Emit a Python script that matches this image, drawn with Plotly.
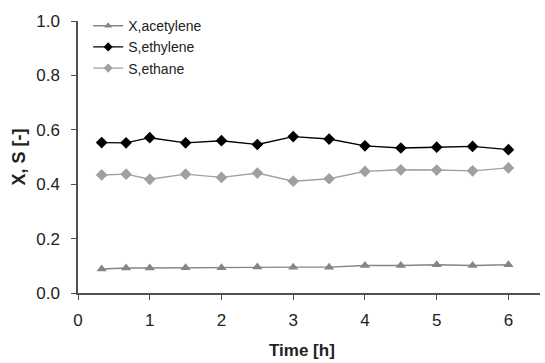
import plotly.graph_objects as go

time_h = [0.33, 0.67, 1.0, 1.5, 2.0, 2.5, 3.0, 3.5, 4.0, 4.5, 5.0, 5.5, 6.0]
x_acetylene = [0.088, 0.092, 0.092, 0.093, 0.093, 0.096, 0.095, 0.095, 0.101, 0.101, 0.104, 0.101, 0.104]
s_ethylene = [0.553, 0.552, 0.571, 0.552, 0.560, 0.546, 0.575, 0.566, 0.541, 0.533, 0.536, 0.539, 0.527]
s_ethane = [0.434, 0.437, 0.418, 0.437, 0.425, 0.441, 0.411, 0.420, 0.447, 0.453, 0.452, 0.449, 0.460]

names = ["X,acetylene", "S,ethylene", "S,ethane"]
series = [x_acetylene, s_ethylene, s_ethane]
colors = ["#858585", "#000000", "#a0a0a0"]
symbols = ["triangle-up", "diamond", "diamond"]

FONT = "Liberation Sans, Arial, sans-serif"
AX = "#505050"

fig = go.Figure()
for nm, ys, c, s in zip(names, series, colors, symbols):
    fig.add_trace(go.Scatter(x=time_h, y=ys, name=nm, mode="lines+markers", showlegend=False,
                             line=dict(color=c, width=1.4),
                             marker=dict(symbol=s, size=9, color=c)))
# legend-only entries with smaller markers, as in the reference legend
for nm, c, s in zip(names, colors, symbols):
    fig.add_trace(go.Scatter(x=[None], y=[None], name=nm, mode="lines+markers",
                             line=dict(color=c, width=1.4),
                             marker=dict(symbol=s, size=7, color=c)))

fig.update_layout(
    width=545, height=363,
    margin=dict(l=78, r=5, t=21, b=70),
    paper_bgcolor="white", plot_bgcolor="white",
    font=dict(family=FONT, color="#222222", size=17),
    showlegend=True,
    legend=dict(x=0.022, y=1.04, xanchor="left", yanchor="top",
                font=dict(size=14, color="#222222"), bgcolor="rgba(0,0,0,0)",
                tracegroupgap=0),
    xaxis=dict(range=[0, 6.44], tickvals=[0, 1, 2, 3, 4, 5, 6], ticktext=["0", "1", "2", "3", "4", "5", "6"],
               showgrid=False, zeroline=False, showline=True, linecolor=AX, linewidth=1.5,
               ticks="outside", ticklen=5, tickcolor=AX, tickwidth=1.2,
               tickfont=dict(size=17), ticklabelstandoff=6),
    yaxis=dict(range=[0, 1.0], tickvals=[0, 0.2, 0.4, 0.6, 0.8, 1.0],
               ticktext=["0.0", "0.2", "0.4", "0.6", "0.8", "1.0"],
               showgrid=False, zeroline=False, showline=True, linecolor=AX, linewidth=1.5,
               ticks="outside", ticklen=5, tickcolor=AX, tickwidth=1.2,
               tickfont=dict(size=17), ticklabelstandoff=8,
               title=dict(text="<b>X, S [-]</b>", font=dict(size=18), standoff=6)),
)
fig.add_annotation(text="<b>Time [h]</b>", xref="paper", yref="paper", x=0.484, y=-0.212,
                   xanchor="center", yanchor="middle", showarrow=False, font=dict(size=17))

fig.write_html("out.html")
